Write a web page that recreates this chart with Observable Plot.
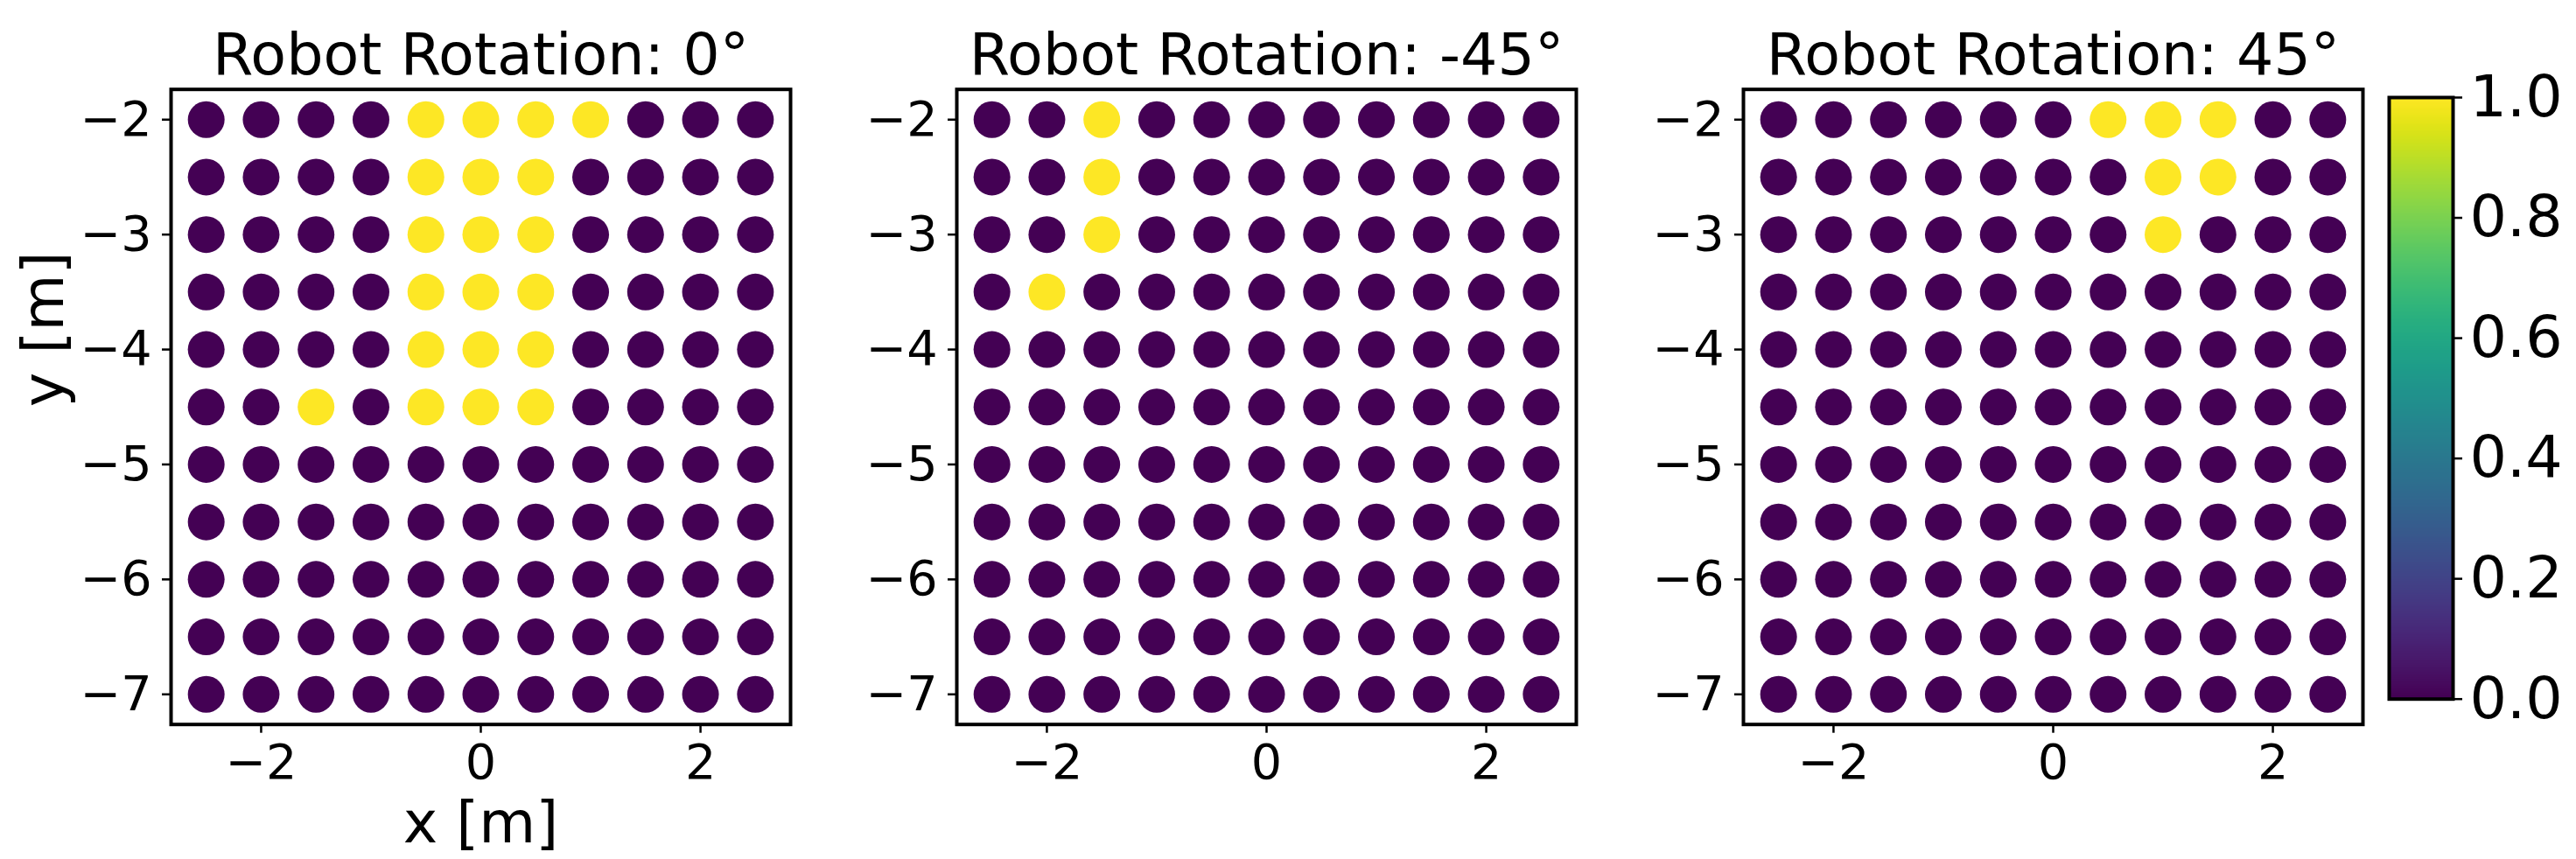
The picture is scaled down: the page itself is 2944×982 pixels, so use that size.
<!DOCTYPE html>
<html>
<head>
<meta charset="utf-8">
<script src="https://cdn.jsdelivr.net/npm/d3@7"></script>
<script src="https://cdn.jsdelivr.net/npm/@observablehq/plot@0.6"></script>
<style>
  body { margin: 0; background: white; }
  #root { position: relative; width: 2944px; height: 982px; background: white; overflow: hidden; }
  #root svg { position: absolute; top: 0; max-width: none; background: transparent; overflow: visible; }
</style>
</head>
<body>
<div id="root"></div>
<script>
// Grid coordinates (m)
const xValues = [-2.5, -2, -1.5, -1, -0.5, 0, 0.5, 1, 1.5, 2, 2.5];
const yValues = [-2, -2.5, -3, -3.5, -4, -4.5, -5, -5.5, -6, -6.5, -7];

// Values per panel: rows follow yValues (top to bottom), columns follow xValues
const rot0 = [
  [0,0,0,0,1,1,1,1,0,0,0],
  [0,0,0,0,1,1,1,0,0,0,0],
  [0,0,0,0,1,1,1,0,0,0,0],
  [0,0,0,0,1,1,1,0,0,0,0],
  [0,0,0,0,1,1,1,0,0,0,0],
  [0,0,1,0,1,1,1,0,0,0,0],
  [0,0,0,0,0,0,0,0,0,0,0],
  [0,0,0,0,0,0,0,0,0,0,0],
  [0,0,0,0,0,0,0,0,0,0,0],
  [0,0,0,0,0,0,0,0,0,0,0],
  [0,0,0,0,0,0,0,0,0,0,0]
];
const rotMinus45 = [
  [0,0,1,0,0,0,0,0,0,0,0],
  [0,0,1,0,0,0,0,0,0,0,0],
  [0,0,1,0,0,0,0,0,0,0,0],
  [0,1,0,0,0,0,0,0,0,0,0],
  [0,0,0,0,0,0,0,0,0,0,0],
  [0,0,0,0,0,0,0,0,0,0,0],
  [0,0,0,0,0,0,0,0,0,0,0],
  [0,0,0,0,0,0,0,0,0,0,0],
  [0,0,0,0,0,0,0,0,0,0,0],
  [0,0,0,0,0,0,0,0,0,0,0],
  [0,0,0,0,0,0,0,0,0,0,0]
];
const rot45 = [
  [0,0,0,0,0,0,1,1,1,0,0],
  [0,0,0,0,0,0,0,1,1,0,0],
  [0,0,0,0,0,0,0,1,0,0,0],
  [0,0,0,0,0,0,0,0,0,0,0],
  [0,0,0,0,0,0,0,0,0,0,0],
  [0,0,0,0,0,0,0,0,0,0,0],
  [0,0,0,0,0,0,0,0,0,0,0],
  [0,0,0,0,0,0,0,0,0,0,0],
  [0,0,0,0,0,0,0,0,0,0,0],
  [0,0,0,0,0,0,0,0,0,0,0],
  [0,0,0,0,0,0,0,0,0,0,0]
];

const panelTitles = ["Robot Rotation: 0°", "Robot Rotation: -45°", "Robot Rotation: 45°"];
const panelValues = [rot0, rotMinus45, rot45];
const xTicks = [-2, 0, 2];
const yTicks = [-7, -6, -5, -4, -3, -2];
const colorTicks = [0, 0.2, 0.4, 0.6, 0.8, 1.0];
const xLabel = "x [m]";
const yLabel = "y [m]";

// Layout (pixels)
const FONT = "DejaVu Sans";
const frameLefts = [194.7, 1093.3, 1992];
const frameW = 708;
const frameTop = 101.7;
const frameBottom = 827.7;
const H = 982;
const mL = 190;

function toRows(matrix) {
  const rows = [];
  matrix.forEach((row, i) => row.forEach((v, j) => rows.push({x: xValues[j], y: yValues[i], v})));
  return rows;
}

const colorScale = {type: "linear", scheme: "viridis", domain: [0, 1]};
const root = document.getElementById("root");

panelValues.forEach((matrix, k) => {
  const data = toRows(matrix);
  const marks = [
    Plot.dot(data, {x: "x", y: "y", fill: "v", r: 21}),
    Plot.frame({stroke: "black", strokeWidth: 4}),
    Plot.axisX({ticks: xTicks, tickFormat: d3.format("d"), tickSize: 10, tickPadding: 12, fontSize: 55.6, strokeWidth: 2.5, label: null}),
    Plot.axisY({ticks: yTicks, tickFormat: d3.format("d"), tickSize: 10, tickPadding: 12, fontSize: 55.6, strokeWidth: 2.5, label: null}),
    Plot.text([panelTitles[k]], {text: d => d, frameAnchor: "top", lineAnchor: "bottom", dy: 84.3 - frameTop, fontSize: 66.7, fill: "black"})
  ];
  if (k === 0) {
    marks.push(Plot.text([xLabel], {text: d => d, frameAnchor: "bottom", lineAnchor: "bottom", dy: 962 - frameBottom, fontSize: 66.7, fill: "black"}));
    marks.push(Plot.text([yLabel], {text: d => d, frameAnchor: "left", lineAnchor: "bottom", rotate: -90, dx: 71.2 - frameLefts[0], fontSize: 66.7, fill: "black"}));
  }
  const svg = Plot.plot({
    width: mL + frameW,
    height: H,
    marginLeft: mL,
    marginRight: 0,
    marginTop: frameTop,
    marginBottom: H - frameBottom,
    style: {fontFamily: FONT, color: "black", background: "transparent", overflow: "visible"},
    x: {domain: [-2.82, 2.82]},
    y: {domain: [-7.262, -1.737]},
    color: colorScale,
    marks
  });
  svg.style.left = (frameLefts[k] - mL) + "px";
  root.appendChild(svg);
});

// Colorbar
const cbLeft = 2730, cbRight = 2803, cbTop = 111, cbBottom = 798.7;
const cbML = 10;
const cb = Plot.plot({
  width: 2944 - (cbLeft - cbML),
  height: H,
  marginLeft: cbML,
  marginRight: 2944 - cbRight,
  marginTop: cbTop,
  marginBottom: H - cbBottom,
  style: {fontFamily: FONT, color: "black", background: "transparent", overflow: "visible"},
  x: {domain: [0, 1], axis: null},
  y: {domain: [0, 1]},
  color: colorScale,
  marks: [
    Plot.raster({fill: (x, y) => y, x1: 0, x2: 1, y1: 0, y2: 1, width: 2, height: 256, imageRendering: "auto"}),
    Plot.frame({stroke: "black", strokeWidth: 4}),
    Plot.axisY({anchor: "right", ticks: colorTicks, tickFormat: d3.format(".1f"), tickSize: 10, tickPadding: 9, fontSize: 66.7, strokeWidth: 2.5, label: null})
  ]
});
cb.style.left = (cbLeft - cbML) + "px";
root.appendChild(cb);
</script>
</body>
</html>
